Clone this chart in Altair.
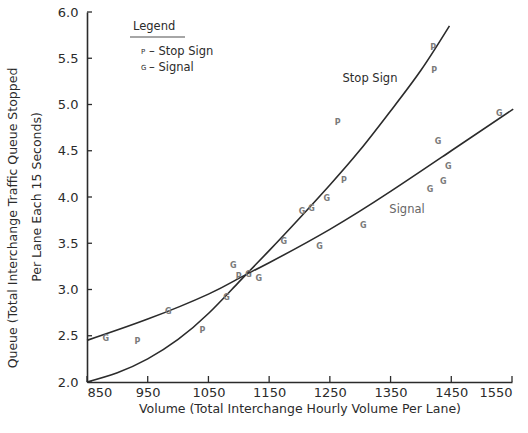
import altair as alt
import pandas as pd

# Axis ticks
x_ticks = [850, 950, 1050, 1150, 1250, 1350, 1450, 1550]
y_ticks = [2.0, 2.5, 3.0, 3.5, 4.0, 4.5, 5.0, 5.5, 6.0]

# Observations: stop-sign controlled interchanges (P)
stop_volume = [933, 1040, 1100, 1263, 1273, 1420, 1422]
stop_queue = [2.43, 2.55, 3.14, 4.80, 4.17, 5.61, 5.36]

# Observations: signal controlled interchanges (G)
signal_volume = [881, 984, 1080, 1091, 1116, 1133, 1174, 1204, 1220, 1233,
                 1245, 1305, 1415, 1428, 1437, 1445, 1529]
signal_queue = [2.46, 2.76, 2.91, 3.25, 3.16, 3.11, 3.51, 3.84, 3.87, 3.46,
                3.98, 3.69, 4.08, 4.59, 4.16, 4.32, 4.90]

# Fitted curves
stop_curve_volume = [850, 900, 950, 1000, 1050, 1100, 1150, 1200, 1250, 1300, 1350, 1400, 1447]
stop_curve_queue = [2.00, 2.10, 2.25, 2.46, 2.74, 3.08, 3.42, 3.77, 4.13, 4.51, 4.93, 5.37, 5.85]

signal_curve_volume = [850, 950, 1050, 1100, 1150, 1250, 1350, 1450, 1552]
signal_curve_queue = [2.45, 2.68, 2.95, 3.12, 3.29, 3.65, 4.06, 4.50, 4.95]

FONT = "DejaVu Sans"
INK = "#2b2b2b"
MARK = "#7a7a7a"

xs = alt.Scale(domain=[850, 1550], nice=False, zero=False)
ys = alt.Scale(domain=[2.0, 6.0], nice=False, zero=False)

points = pd.DataFrame({
    "volume": stop_volume + signal_volume,
    "queue": stop_queue + signal_queue,
    "code": ["P"] * len(stop_volume) + ["G"] * len(signal_volume),
})
stop_curve = pd.DataFrame({"volume": stop_curve_volume, "queue": stop_curve_queue})
signal_curve = pd.DataFrame({"volume": signal_curve_volume, "queue": signal_curve_queue})
xt = pd.DataFrame({"v": x_ticks})
yt = pd.DataFrame({"v": y_ticks})

x_axis = alt.Axis(
    values=x_ticks, format="d", ticks=False, grid=False,
    domainColor=INK, domainWidth=1.6,
    labelFont=FONT, labelFontSize=13, labelColor=INK, labelPadding=4,
    title="Volume (Total Interchange Hourly Volume Per Lane)",
    titleFont=FONT, titleFontSize=12.5, titleFontWeight="normal", titleColor=INK,
    titlePadding=3,
)
y_axis = alt.Axis(
    values=y_ticks, format=".1f", ticks=False, grid=False,
    domainColor=INK, domainWidth=1.6,
    labelFont=FONT, labelFontSize=13, labelColor=INK, labelPadding=9,
    title=None,
)

curve_stop = alt.Chart(stop_curve).mark_line(
    color=INK, strokeWidth=1.6, interpolate="natural"
).encode(
    x=alt.X("volume:Q", scale=xs, axis=x_axis),
    y=alt.Y("queue:Q", scale=ys, axis=y_axis),
)
curve_signal = alt.Chart(signal_curve).mark_line(
    color=INK, strokeWidth=1.6, interpolate="natural"
).encode(
    x=alt.X("volume:Q", scale=xs),
    y=alt.Y("queue:Q", scale=ys),
)

pts = alt.Chart(points).mark_text(
    font=FONT, fontSize=8, color=MARK, fontWeight="bold"
).encode(
    x=alt.X("volume:Q", scale=xs),
    y=alt.Y("queue:Q", scale=ys),
    text="code:N",
)

# Inward tick marks
x_tick_marks = alt.Chart(xt).mark_rule(color=INK, strokeWidth=1.3).encode(
    x=alt.X("v:Q", scale=xs), y=alt.value(370), y2=alt.value(364)
)
y_tick_marks = alt.Chart(yt).mark_rule(color=INK, strokeWidth=1.3).encode(
    y=alt.Y("v:Q", scale=ys), x=alt.value(0), x2=alt.value(5)
)

def label(text, x, y, size=12, color=INK, angle=0, align="left"):
    return alt.Chart(pd.DataFrame({"t": [text]})).mark_text(
        font=FONT, fontSize=size, color=color, angle=angle, align=align,
        baseline="middle",
    ).encode(text="t:N", x=alt.value(x), y=alt.value(y))

y_title_1 = label("Queue (Total Interchange Traffic Queue Stopped", -74, 206,
                  size=12.5, angle=270, align="center")
y_title_2 = label("Per Lane Each 15 Seconds)", -50, 185,
                  size=12.5, angle=270, align="center")

legend_head = label("Legend", 46, 15, size=11.5)
legend_rule = alt.Chart(pd.DataFrame({"a": [0]})).mark_rule(
    color="#888", strokeWidth=1.5
).encode(x=alt.value(43), x2=alt.value(98), y=alt.value(25))
legend_p = label("P", 54, 40, size=7, color=INK)
legend_p_text = label("– Stop Sign", 62, 40, size=11.5)
legend_g = label("G", 54, 56, size=7, color=INK)
legend_g_text = label("– Signal", 62, 56, size=11.5)

stop_label = label("Stop Sign", 283, 67, size=11.5, align="center")
signal_label = label("Signal", 320, 198, size=11.5, color="#666", align="center")

chart = alt.layer(
    curve_stop, curve_signal, pts, x_tick_marks, y_tick_marks,
    y_title_1, y_title_2, legend_head, legend_rule, legend_p, legend_p_text,
    legend_g, legend_g_text, stop_label, signal_label,
).properties(
    width=425, height=370,
    autosize=alt.AutoSizeParams(type="none"),
    padding={"left": 87, "top": 12, "right": 16, "bottom": 51},
    background="white",
).configure_view(stroke=None)

chart.save("out.html", embed_options={"renderer": "svg", "actions": False})
